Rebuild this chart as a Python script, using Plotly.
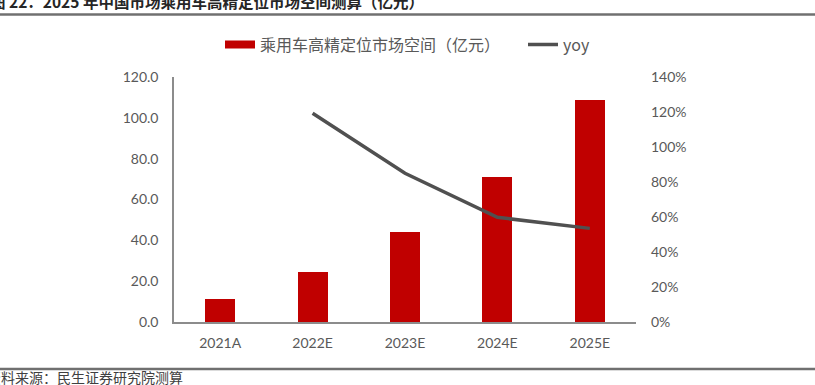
import plotly.graph_objects as go

categories = ["2021A", "2022E", "2023E", "2024E", "2025E"]
market_space = [11.3, 24.3, 44.3, 70.9, 108.6]
yoy = [None, 1.193, 0.850, 0.598, 0.535]

bar_name = "乘用车高精定位市场空间（亿元）"
line_name = "yoy"
title_text = "图 22：2025 年中国市场乘用车高精定位市场空间测算（亿元）"
source_text = "资料来源：民生证券研究院测算"

W, H = 815, 385
L, R, T, B = 174, 179, 77, 63
pw = W - L - R
ph = H - T - B


def px_x(x):
    return (x - L) / pw


def px_y(y):
    return (H - B - y) / ph


tick_font = dict(family="Lato, Noto Sans, sans-serif", size=14, color="#595959")
cjk = "Noto Sans CJK SC, sans-serif"

fig = go.Figure()
fig.add_trace(go.Bar(
    x=categories, y=market_space, name=bar_name,
    marker=dict(color="#C00000", line=dict(width=0)),
    width=0.325, showlegend=False, yaxis="y",
))
fig.add_trace(go.Scatter(
    x=categories, y=yoy, name=line_name, mode="lines",
    line=dict(color="#505050", width=3.5), yaxis="y2", showlegend=False,
))
# legend entries
fig.add_trace(go.Scatter(
    x=[categories[0]], y=[None], name=bar_name, mode="lines",
    line=dict(color="#C00000", width=8), yaxis="y", showlegend=True,
    legendwidth=258,
))
fig.add_trace(go.Scatter(
    x=[categories[0]], y=[None], name=line_name, mode="lines",
    line=dict(color="#505050", width=3.5), yaxis="y2", showlegend=True,
    legendwidth=30,
))

fig.update_layout(
    width=W, height=H,
    margin=dict(l=L, r=R, t=T, b=B, pad=0, autoexpand=False),
    paper_bgcolor="white", plot_bgcolor="white",
    font=dict(family=cjk, color="#595959"),
    bargap=0,
    xaxis=dict(
        type="category", showline=True, linecolor="#8C8C8C", linewidth=1.5,
        ticks="", showgrid=False, zeroline=False, tickfont=tick_font,
        ticklabelstandoff=7, automargin=False,
    ),
    yaxis=dict(
        range=[0, 120], dtick=20, tickformat=".1f", showline=True,
        linecolor="#8C8C8C", linewidth=1.5, ticks="", showgrid=False,
        zeroline=False, tickfont=tick_font, ticklabelstandoff=11,
        automargin=False,
    ),
    yaxis2=dict(
        range=[0, 1.4], dtick=0.2, tickformat=".0%", overlaying="y",
        side="right", showline=False, ticks="", showgrid=False,
        zeroline=False, tickfont=tick_font, ticklabelstandoff=14,
        automargin=False,
    ),
    legend=dict(
        orientation="h", x=px_x(220), xanchor="left", y=px_y(44.5),
        yanchor="middle", font=dict(family=cjk, size=16, color="#595959"),
        bgcolor="rgba(0,0,0,0)", traceorder="normal",
    ),
    annotations=[
        dict(text="<b>" + title_text + "</b>", xref="paper", yref="paper",
             x=px_x(-12), y=px_y(0.5), xanchor="left", yanchor="middle",
             showarrow=False, font=dict(family=cjk, size=15.5, color="#262626")),
        dict(text=source_text, xref="paper", yref="paper",
             x=px_x(-15), y=px_y(377), xanchor="left", yanchor="middle",
             showarrow=False, font=dict(family=cjk, size=14, color="#404040")),
    ],
    shapes=[
        dict(type="line", xref="paper", yref="paper", x0=px_x(0), x1=px_x(W),
             y0=px_y(14.5), y1=px_y(14.5), line=dict(color="#707070", width=2.5)),
        dict(type="line", xref="paper", yref="paper", x0=px_x(0), x1=px_x(W),
             y0=px_y(369), y1=px_y(369), line=dict(color="#707070", width=2.5)),
    ],
)

fig.write_html(
    "out.html",
    config={"displayModeBar": False},
    post_script="document.body.style.margin='0px';document.body.style.overflow='hidden';",
)
